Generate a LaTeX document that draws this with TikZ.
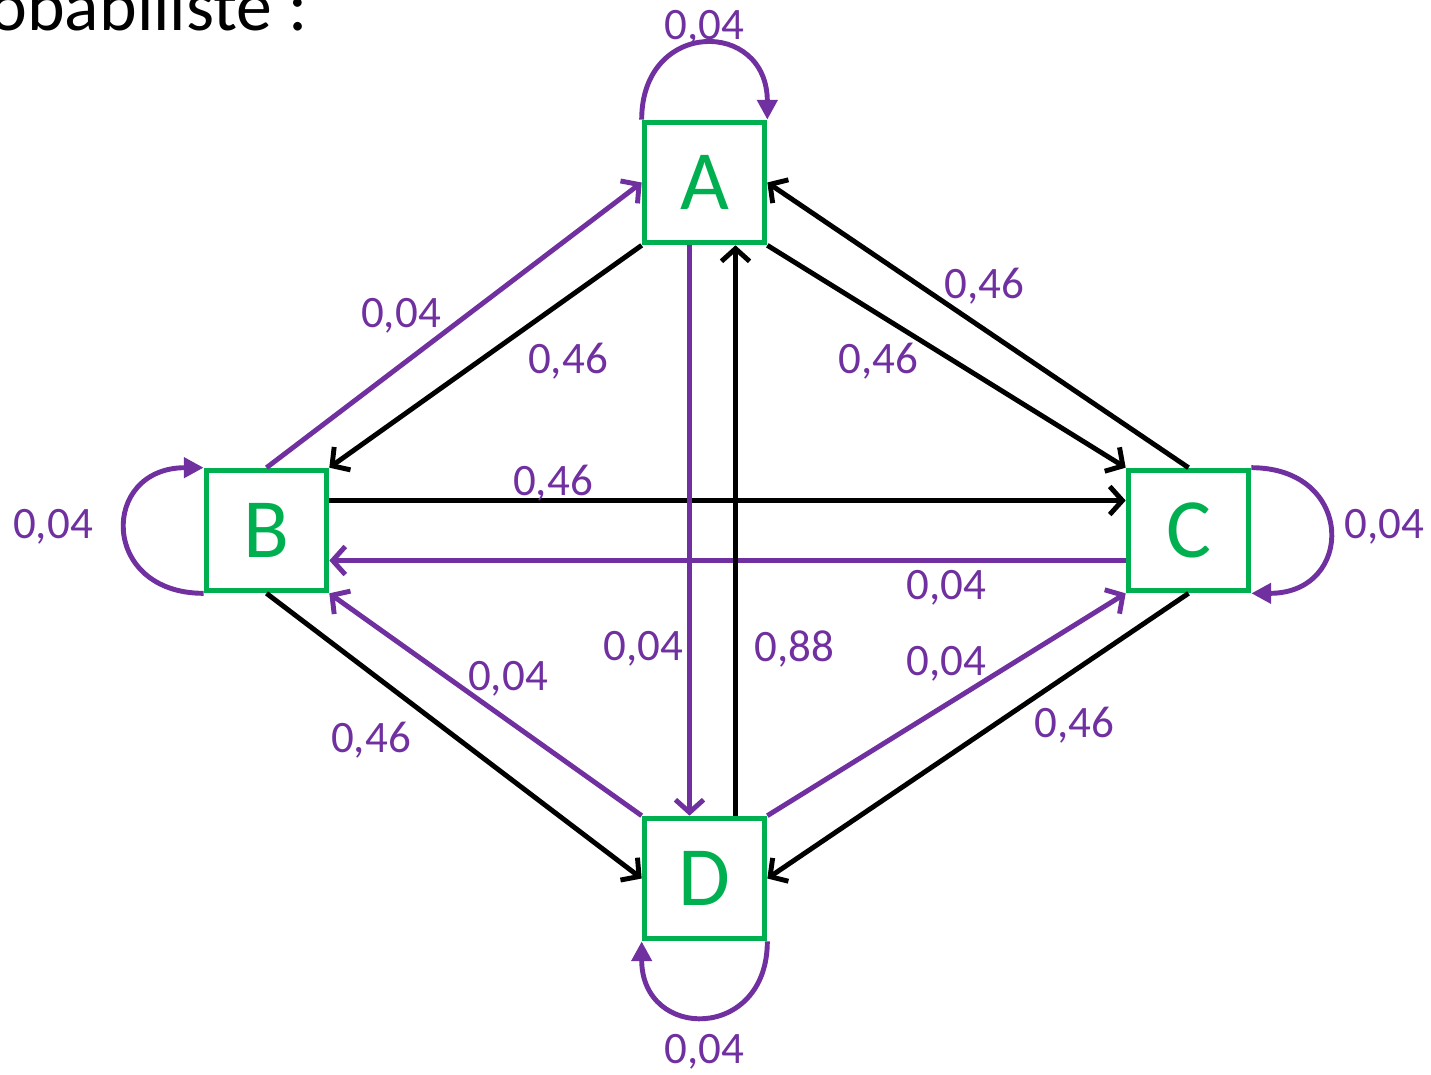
\documentclass[tikz,border=0pt]{standalone}
\usepackage{fontspec}
\setmainfont{Carlito}
\usetikzlibrary{arrows.meta, calc}
\definecolor{Violet}{HTML}{7030A0}
\definecolor{Vert}  {HTML}{00B050}

\begin{document}
\begin{tikzpicture}[
  x=0.025cm, y=-0.025cm,
  every node/.style={font=\fontsize{32}{38}\selectfont},
  stbox/.style={draw=Vert, line width=4pt, minimum width=3cm,
                minimum height=3cm, inner sep=0pt, text=Vert,
                font=\fontsize{60}{72}\selectfont},
  lbl/.style={text=Violet, inner sep=0pt, text depth=0pt},
  blk/.style={-{Straight Barb[length=9pt,width=20pt]}, line width=3.5pt, draw=black},
  pur/.style={blk, draw=Violet},
  boucle/.style={-{Triangle[length=14pt,width=14pt]}, line width=3.5pt, draw=Violet},
]
  \useasboundingbox (0,0) rectangle (1431,1074);
  \clip (0,0) rectangle (1431,1074);

  \node[anchor=base east, font=\fontsize{51}{60}\selectfont] (titre) at (313,30) {probabiliste :};

  % etats
  \node[stbox] (A) at (704.5,182.5) {A};
  \node[stbox] (B) at (266.5,530.5) {B};
  \node[stbox] (C) at (1188.5,530.5) {C};
  \node[stbox] (D) at (704.5,878.5) {D};

  % boucles
  \draw[boucle] (A.north west) .. controls +(0,-101) and +(0,-101) .. (A.north east);
  \node[lbl] (lAA) at (704,25) {0,04};
  \draw[boucle] (B.south west) .. controls +(-104,0) and +(-104,0) .. (B.north west);
  \node[lbl] (lBB) at (53,524) {0,04};
  \draw[boucle] (C.north east) .. controls +(104,0) and +(104,0) .. (C.south east);
  \node[lbl] (lCC) at (1384,524) {0,04};
  \draw[boucle] (D.south east) .. controls +(0,100) and +(0,100) .. (D.south west);
  \node[lbl] (lDD) at (704,1049) {0,04};

  % transitions
  \draw[blk] (A.south west) -- (B.north east);
  \node[lbl] (lAB) at (568,358) {0,46};
  \draw[pur] (B.north) -- (A.west);
  \node[lbl] (lBA) at (401,313) {0,04};
  \draw[blk] (A.south east) -- (C.north west);
  \node[lbl] (lAC) at (878,358) {0,46};
  \draw[blk] (C.north) -- (A.east);
  \node[lbl] (lCA) at (984,283) {0,46};
  \draw[blk] ($(B.east)+(0,-30)$) -- ($(C.west)+(0,-30)$);
  \node[lbl] (lBC) at (553,480) {0,46};
  \draw[pur] ($(C.west)+(0,30)$) -- ($(B.east)+(0,30)$);
  \node[lbl] (lCB) at (946,585) {0,04};
  \draw[pur] ($(A.south)+(-15,0)$) -- ($(D.north)+(-15,0)$);
  \node[lbl] (lAD) at (643,646) {0,04};
  \draw[blk] ($(D.north)+(31,0)$) -- ($(A.south)+(31,0)$);
  \node[lbl] (lDA) at (794,646) {0,88};
  \draw[blk] (B.south) -- (D.west);
  \node[lbl] (lBD) at (371,737) {0,46};
  \draw[pur] (D.north west) -- (B.south east);
  \node[lbl] (lDB) at (508,676) {0,04};
  \draw[pur] (D.north east) -- (C.south west);
  \node[lbl] (lDC) at (946,661) {0,04};
  \draw[blk] (C.south) -- (D.east);
  \node[lbl] (lCD) at (1074,722) {0,46};
\end{tikzpicture}
\end{document}
